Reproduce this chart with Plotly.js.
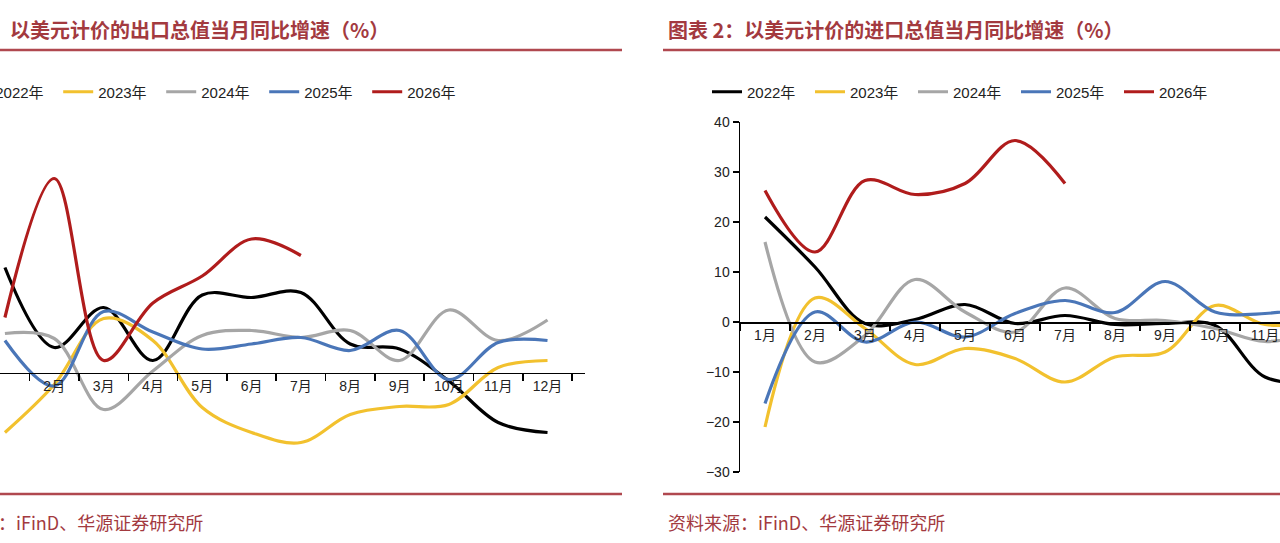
<!DOCTYPE html>
<html><head><meta charset="utf-8">
<script src="https://cdn.plot.ly/plotly-3.0.1.min.js"></script>
<style>html,body{margin:0;padding:0;background:#fff;overflow:hidden}</style>
</head><body><div id="c" style="width:1280px;height:543px"></div>
<script>
const months = ['1月','2月','3月','4月','5月','6月','7月','8月','9月','10月','11月','12月'];
const years = ['2022年','2023年','2024年','2025年','2026年'];
const colors = ['#000000','#f2c12e','#a6a6a6','#4a76b8','#b01c1c'];
// Exports YoY (%)
const exp2022 = [21,5,13,2.4,15.5,15,16,5.7,4.7,-1.7,-10,-12];
const exp2023 = [-12,-2.4,10.8,6.4,-7,-12,-14,-8.4,-6.8,-6.4,1,2.4];
const exp2024 = [7.8,6.8,-7.4,0.3,7.4,8.4,7,8.4,2.4,12.5,6.4,10.5];
const exp2025 = [6.4,-2.7,12.2,8.1,4.7,5.7,7,4.4,8.4,-1.4,6,6.4];
const exp2026 = [11,38.8,2.4,13.9,19.3,26.7,23.4];
// Imports YoY (%)
const imp2022 = [21,11,-0.3,0.5,3.5,-0.3,1.3,-0.5,-0.3,-0.7,-11,-12];
const imp2023 = [-21,4.8,-1.3,-8.5,-5.3,-7.3,-12,-7,-6,3.3,-0.5,0];
const imp2024 = [16,-8,-2.7,8.5,2,-2,6.8,0.7,0.3,-1.3,-3.9,-2];
const imp2025 = [-16.3,2,-4,0,-3,1.7,4.3,1.9,8.1,2,1.7,3];
const imp2026 = [26.3,14,28.3,25.5,27.7,36.3,27.7];

const expS=[exp2022,exp2023,exp2024,exp2025,exp2026];
const impS=[imp2022,imp2023,imp2024,imp2025,imp2026];
const idx = months.map((m,i)=>i);
const traces=[];
expS.forEach((s,k)=>traces.push({x:idx.slice(0,s.length),y:s,type:'scatter',mode:'lines',name:years[k],
  line:{color:colors[k],width:3.2,shape:'spline',smoothing:1},xaxis:'x',yaxis:'y',legend:'legend',hoverinfo:'skip'}));
impS.forEach((s,k)=>traces.push({x:idx.slice(0,s.length),y:s,type:'scatter',mode:'lines',name:years[k],
  line:{color:colors[k],width:3.2,shape:'spline',smoothing:1},xaxis:'x2',yaxis:'y2',legend:'legend2',hoverinfo:'skip'}));

const H=543,W=1280;
const py=p=>1-p/H, px=p=>p/W;
const font={family:'Liberation Sans, Noto Sans CJK SC, sans-serif',size:14,color:'#222'};
const xcommon={tickvals:idx,ticktext:months,ticks:'',showgrid:false,zeroline:false,showline:true,linecolor:'#000',linewidth:1.5,
  anchor:'free',fixedrange:true,tickfont:{size:14,color:'#222'},
  minor:{tick0:0.5,dtick:1,ticks:'outside',ticklen:7,tickcolor:'#000',tickwidth:1.5}};
const layout={width:W,height:H,margin:{l:0,r:0,t:0,b:0,autoexpand:false},paper_bgcolor:'#fff',plot_bgcolor:'rgba(0,0,0,0)',font:font,
  xaxis:Object.assign({},xcommon,{domain:[0,px(585)],range:[-0.1,11.76],position:py(372.5)}),
  yaxis:{domain:[py(472),py(122)],range:[-19.9,50.1],visible:false,fixedrange:true},
  xaxis2:Object.assign({},xcommon,{domain:[px(740),1],range:[-0.5,10.3],position:py(322)}),
  yaxis2:{domain:[py(472),py(122)],range:[-30,40],anchor:'x2',dtick:10,ticks:'outside',ticklen:6,tickwidth:1.5,tickcolor:'#000',
    showline:true,linecolor:'#000',linewidth:1.5,showgrid:false,zeroline:false,tickfont:{size:14,color:'#222'},fixedrange:true},
  legend:{orientation:'h',x:-0.035,y:py(92),yanchor:'middle',xanchor:'left',font:{size:15,color:'#222'},entrywidth:58,bgcolor:'rgba(0,0,0,0)'},
  legend2:{orientation:'h',x:px(707),y:py(92),yanchor:'middle',xanchor:'left',font:{size:15,color:'#222'},entrywidth:58,bgcolor:'rgba(0,0,0,0)'},
  shapes:[
    {type:'line',xref:'paper',yref:'paper',x0:0,x1:px(622),y0:py(50),y1:py(50),line:{color:'#b0484f',width:2.5}},
    {type:'line',xref:'paper',yref:'paper',x0:px(663),x1:1,y0:py(50),y1:py(50),line:{color:'#b0484f',width:2.5}},
    {type:'line',xref:'paper',yref:'paper',x0:0,x1:px(622),y0:py(494),y1:py(494),line:{color:'#b0484f',width:2.5}},
    {type:'line',xref:'paper',yref:'paper',x0:px(663),x1:1,y0:py(494),y1:py(494),line:{color:'#b0484f',width:2.5}}
  ],
  annotations:[
    {text:'<b>以美元计价的出口总值当月同比增速（%）</b>',xref:'paper',yref:'paper',x:px(8),y:py(30),xanchor:'left',yanchor:'middle',showarrow:false,font:{family:'Noto Sans CJK SC',size:20,color:'#a33a3f'}},
    {text:'<b>图表 2：以美元计价的进口总值当月同比增速（%）</b>',xref:'paper',yref:'paper',x:px(666),y:py(30),xanchor:'left',yanchor:'middle',showarrow:false,font:{family:'Noto Sans CJK SC',size:20,color:'#a33a3f'}},
    {text:'：iFinD、华源证券研究所',xref:'paper',yref:'paper',x:px(-4),y:py(522),xanchor:'left',yanchor:'middle',showarrow:false,font:{family:'Noto Sans CJK SC',size:18,color:'#a33a3f'}},
    {text:'资料来源：iFinD、华源证券研究所',xref:'paper',yref:'paper',x:px(666),y:py(522),xanchor:'left',yanchor:'middle',showarrow:false,font:{family:'Noto Sans CJK SC',size:18,color:'#a33a3f'}}
  ]
};
Plotly.newPlot('c',traces,layout,{displayModeBar:false,staticPlot:true});
</script></body></html>
